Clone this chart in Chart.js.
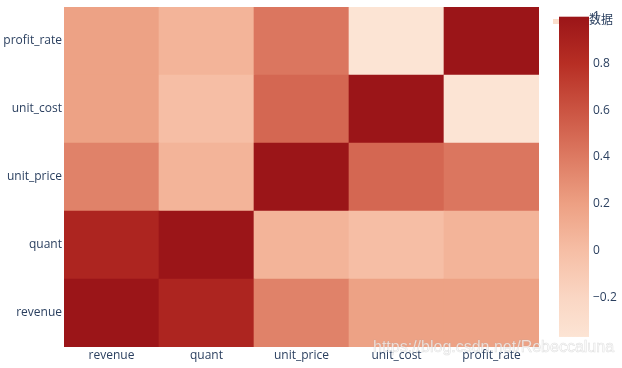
<!DOCTYPE html>
<html>
<head>
<meta charset="utf-8">
<script src="https://cdn.jsdelivr.net/npm/chart.js@4"></script>
<style>
  html, body { margin: 0; padding: 0; background: #fff; }
  #wrap { width: 622px; height: 368px; }
</style>
</head>
<body>
<div id="wrap"><canvas id="heat"></canvas></div>
<script>
// categories (x left→right, y bottom→top)
const columns = ['revenue', 'quant', 'unit_price', 'unit_cost', 'profit_rate'];
const rows = ['revenue', 'quant', 'unit_price', 'unit_cost', 'profit_rate'];

// correlation values, one array per row
const revenueRow    = [1.00, 0.87, 0.36, 0.19, 0.19];
const quantRow      = [0.87, 1.00, 0.07, 0.00, 0.07];
const unitPriceRow  = [0.36, 0.07, 1.00, 0.50, 0.42];
const unitCostRow   = [0.19, 0.00, 0.50, 1.00, -0.37];
const profitRateRow = [0.19, 0.07, 0.42, -0.37, 1.00];
const matrix = [revenueRow, quantRow, unitPriceRow, unitCostRow, profitRateRow];

const colorbarTicks = [1, 0.8, 0.6, 0.4, 0.2, 0, -0.2];
const zMin = -0.37;
const zMax = 1;
const legendName = '数据';

const FONT_COLOR = '#2a3f5f';
const TICK_FONT = { family: "'Open Sans', 'Noto Sans CJK SC', sans-serif", size: 12 };

// colour scale (value → rgb)
const stops = [
    [-0.37, [252, 228, 212]],
    [-0.2, [250, 214, 195]],
    [0.0, [246, 190, 165]],
    [0.2, [237, 160, 131]],
    [0.4, [221, 122, 98]],
    [0.6, [203, 84, 66]],
    [0.8, [183, 46, 36]],
    [1.0, [155, 21, 24]]
];

function colorFor(v) {
    if (v <= stops[0][0]) return `rgb(${stops[0][1].join(',')})`;
    for (let i = 1; i < stops.length; i++) {
        if (v <= stops[i][0]) {
            const [v0, c0] = stops[i - 1];
            const [v1, c1] = stops[i];
            const t = (v - v0) / (v1 - v0);
            const c = c0.map((x, k) => Math.round(x + (c1[k] - x) * t));
            return `rgb(${c.join(',')})`;
        }
    }
    return `rgb(${stops[stops.length - 1][1].join(',')})`;
}

// one floating-bar dataset per row, all sharing the same x slot
const datasets = rows.map((name, r) => ({
    label: name,
    data: columns.map(() => [r, r + 1]),
    backgroundColor: matrix[r].map(colorFor),
    borderWidth: 0,
    grouped: false,
    barPercentage: 1,
    categoryPercentage: 1,
    xAxisID: 'x',
    yAxisID: 'y'
}));

// axes shouldn't push the plot area around with their label padding
function noPadding(s) {
    s.paddingTop = 0;
    s.paddingBottom = 0;
    s.paddingLeft = 0;
    s.paddingRight = 0;
}

const colorbarPlugin = {
    id: 'colorbar',
    afterDraw(chart) {
        const ctx = chart.ctx;
        const cb = chart.scales.cb;
        const top = cb.getPixelForValue(zMax);
        const bottom = cb.getPixelForValue(zMin);
        ctx.save();

        // legend swatch (sits behind the colour bar)
        ctx.fillStyle = 'rgb(251, 222, 204)';
        ctx.fillRect(553, 19, 30, 5);

        // colour bar
        const grad = ctx.createLinearGradient(0, bottom, 0, top);
        stops.forEach(([v, c]) => {
            grad.addColorStop((v - zMin) / (zMax - zMin), `rgb(${c.join(',')})`);
        });
        ctx.fillStyle = grad;
        ctx.fillRect(559, top, 30, bottom - top);

        // legend text
        ctx.fillStyle = FONT_COLOR;
        ctx.font = "12px 'Open Sans', 'Noto Sans CJK SC', sans-serif";
        ctx.textBaseline = 'middle';
        ctx.textAlign = 'left';
        ctx.fillText(legendName, 589, 21);

        // watermark
        ctx.font = "16px 'Liberation Sans', Arial, sans-serif";
        ctx.fillStyle = 'rgba(255, 255, 255, 0.72)';
        ctx.fillText('https://blog.csdn.net/Rebeccaluna', 373, 348);
        ctx.strokeStyle = 'rgba(170, 170, 170, 0.35)';
        ctx.lineWidth = 0.6;
        ctx.strokeText('https://blog.csdn.net/Rebeccaluna', 373, 348);
        ctx.restore();
    }
};

const ctx = document.getElementById('heat').getContext('2d');
const heatChart = new Chart(ctx, {
    type: 'bar',
    data: {
        labels: columns,
        datasets: datasets
    },
    options: {
        responsive: true,
        maintainAspectRatio: false,
        animation: false,
        layout: { padding: { top: 7, left: 0, right: 0, bottom: 0 } },
        plugins: {
            legend: { display: false },
            tooltip: { enabled: false }
        },
        scales: {
            x: {
                type: 'category',
                grid: { display: false, drawTicks: false },
                border: { display: false },
                ticks: { color: FONT_COLOR, font: TICK_FONT, padding: 1, maxRotation: 0 },
                afterFit: (s) => { s.height = 21; noPadding(s); }
            },
            y: {
                type: 'linear',
                position: 'left',
                min: 0,
                max: rows.length,
                grid: { display: false, drawTicks: false },
                border: { display: false },
                afterBuildTicks: (s) => { s.ticks = rows.map((_, i) => ({ value: i + 0.5 })); },
                ticks: {
                    color: FONT_COLOR,
                    font: TICK_FONT,
                    padding: 2,
                    callback: (v, i) => rows[i]
                },
                afterFit: (s) => { s.width = 64; noPadding(s); }
            },
            cb: {
                type: 'linear',
                position: 'right',
                min: -0.413,
                max: 1.0415,
                grid: { display: false, drawTicks: false },
                border: { display: false },
                afterBuildTicks: (s) => { s.ticks = colorbarTicks.map(v => ({ value: v })); },
                ticks: {
                    color: FONT_COLOR,
                    font: TICK_FONT,
                    padding: 54,
                    callback: (v) => v < 0 ? '\u2212' + Math.abs(v) : String(v)
                },
                afterFit: (s) => { s.width = 83; noPadding(s); }
            }
        }
    },
    plugins: [colorbarPlugin]
});
</script>
</body>
</html>
